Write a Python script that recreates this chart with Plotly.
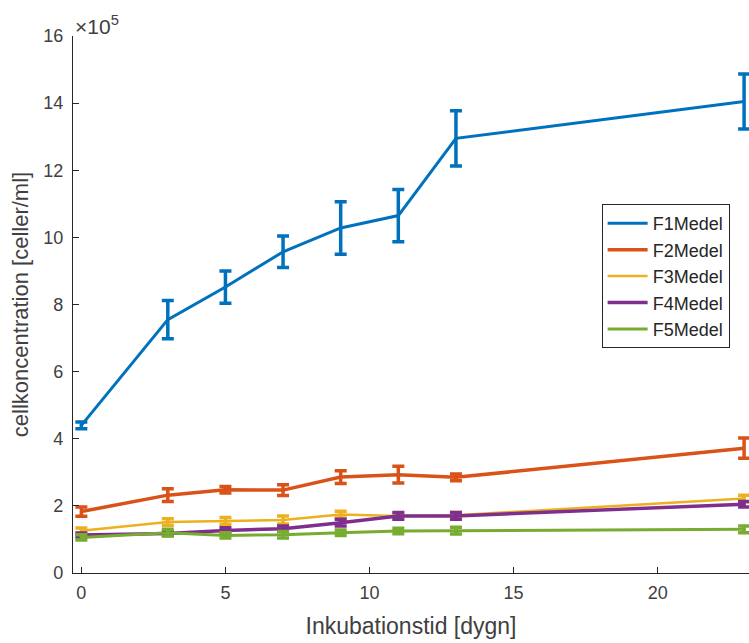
import plotly.graph_objects as go

# Incubation days
days = [0, 3, 5, 7, 9, 11, 13, 23]

# Mean cell concentration per series (units of 1e5 cells/ml) and error half-widths
f1_mean = [4.40, 7.55, 8.52, 9.57, 10.28, 10.65, 12.95, 14.05]
f1_err = [0.10, 0.57, 0.48, 0.47, 0.78, 0.78, 0.82, 0.82]

f2_mean = [1.83, 2.32, 2.48, 2.47, 2.86, 2.93, 2.85, 3.72]
f2_err = [0.14, 0.19, 0.10, 0.16, 0.19, 0.25, 0.10, 0.30]

f3_mean = [1.26, 1.52, 1.55, 1.58, 1.74, 1.70, 1.72, 2.22]
f3_err = [0.08, 0.10, 0.10, 0.12, 0.10, 0.08, 0.08, 0.10]

f4_mean = [1.13, 1.18, 1.27, 1.32, 1.50, 1.70, 1.70, 2.05]
f4_err = [0.06, 0.06, 0.08, 0.08, 0.10, 0.10, 0.10, 0.08]

f5_mean = [1.06, 1.20, 1.12, 1.14, 1.20, 1.25, 1.26, 1.30]
f5_err = [0.08, 0.10, 0.08, 0.10, 0.08, 0.08, 0.10, 0.10]

series_names = ["F1Medel", "F2Medel", "F3Medel", "F4Medel", "F5Medel"]
series_means = [f1_mean, f2_mean, f3_mean, f4_mean, f5_mean]
series_errs = [f1_err, f2_err, f3_err, f4_err, f5_err]
colors = ["#0072BD", "#D95319", "#EDB120", "#7E2F8E", "#77AC30"]
line_widths = [3, 3.5, 2.5, 3.5, 3]

y_ticks = [0, 2, 4, 6, 8, 10, 12, 14, 16]
x_ticks = [0, 5, 10, 15, 20]

FONT = "Liberation Sans, Arial, sans-serif"
AXIS_COLOR = "#262626"
TEXT_COLOR = "#404040"

fig = go.Figure()
for name, mean, err, col, lw in zip(series_names, series_means, series_errs, colors, line_widths):
    fig.add_trace(go.Scatter(
        x=days, y=mean, name=name, mode="lines",
        line=dict(color=col, width=lw),
        error_y=dict(type="data", array=err, visible=True,
                     color=col, thickness=3.5, width=6),
    ))

fig.update_layout(
    width=749, height=643,
    margin=dict(l=73, r=0, t=36, b=70),
    paper_bgcolor="white", plot_bgcolor="white",
    font=dict(family=FONT, color=TEXT_COLOR, size=18),
    showlegend=True,
    legend=dict(
        x=0.782, y=0.687, xanchor="left", yanchor="top",
        bgcolor="white", bordercolor=AXIS_COLOR, borderwidth=1,
        font=dict(family=FONT, size=18, color="#262626"),
        itemwidth=40, tracegroupgap=0,
    ),
)

fig.update_xaxes(
    range=[-0.29, 23.17], tickvals=x_ticks,
    showline=True, linecolor=AXIS_COLOR, linewidth=1.2,
    ticks="inside", ticklen=6, tickcolor=AXIS_COLOR,
    showgrid=False, zeroline=False, mirror=False,
    tickfont=dict(size=18, color=TEXT_COLOR), ticklabelstandoff=3,
    title=dict(text="Inkubationstid [dygn]", font=dict(size=23, color=TEXT_COLOR), standoff=16),
)
fig.update_yaxes(
    range=[0, 16], tickvals=y_ticks,
    showline=True, linecolor=AXIS_COLOR, linewidth=1.2,
    ticks="inside", ticklen=6, tickcolor=AXIS_COLOR,
    showgrid=False, zeroline=False, mirror=False,
    tickfont=dict(size=18, color=TEXT_COLOR), ticklabelstandoff=5,
    title=dict(text="cellkoncentration [celler/ml]", font=dict(size=22, color=TEXT_COLOR), standoff=8),
)

fig.add_annotation(
    x=0, y=1, xref="paper", yref="paper", xanchor="left", yanchor="bottom",
    text="×10<sup>5</sup>", showarrow=False, xshift=0, yshift=-4,
    font=dict(family=FONT, size=21, color=TEXT_COLOR),
)

fig.write_html("out.html")
